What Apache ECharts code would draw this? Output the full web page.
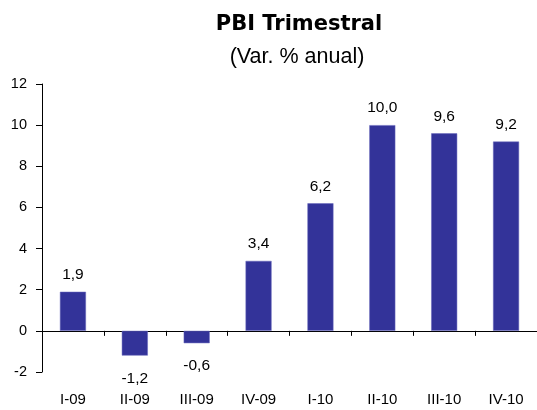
<!DOCTYPE html>
<html><head><meta charset="utf-8">
<script src="https://cdn.jsdelivr.net/npm/echarts@6/dist/echarts.min.js"></script>
<style>html,body{margin:0;padding:0;background:#fff}#c{width:537px;height:410px}</style>
</head><body><div id="c"></div>
<script>
const categories = ['I-09','II-09','III-09','IV-09','I-10','II-10','III-10','IV-10'];
const values = [1.9, -1.2, -0.6, 3.4, 6.2, 10.0, 9.6, 9.2];
const yTicks = {min: -2, max: 12, interval: 2};
const font = '"Liberation Sans", Arial, sans-serif';
const chart = echarts.init(document.getElementById('c'), null, {renderer: 'canvas'});
chart.setOption({
  animation: false,
  title: [{
    text: 'PBI Trimestral', left: 294, top: 9, textAlign: 'center',
    textStyle: {fontFamily: '"DejaVu Sans", sans-serif', fontSize: 21, fontWeight: 'bold', color: '#000'}
  }, {
    text: '(Var. % anual)', left: 292, top: 41, textAlign: 'center',
    textStyle: {fontFamily: font, fontSize: 21.5, fontWeight: 'normal', color: '#000'}
  }],
  grid: {left: 42, right: -7, top: 84, bottom: 38},
  xAxis: [{
    type: 'category', data: categories, position: 'bottom',
    axisLine: {onZero: true, lineStyle: {color: '#000', width: 1}},
    axisTick: {show: true, length: 5, lineStyle: {color: '#000'}},
    axisLabel: {show: false}
  }, {
    type: 'category', data: categories, position: 'bottom',
    axisLine: {show: false, onZero: false},
    axisTick: {show: false},
    axisLabel: {show: true, margin: 20, fontFamily: font, fontSize: 15, color: '#000'}
  }],
  yAxis: {
    type: 'value', min: yTicks.min, max: yTicks.max, interval: yTicks.interval,
    axisLine: {show: true, lineStyle: {color: '#000'}},
    axisTick: {show: true, length: 6, lineStyle: {color: '#000'}},
    splitLine: {show: false},
    axisLabel: {fontFamily: font, fontSize: 14.5, color: '#000', margin: 15}
  },
  series: [{
    type: 'bar', xAxisIndex: 0, barWidth: 26,
    data: values.map(v => ({
      value: v,
      label: v >= 0 ? {position: 'top', distance: 9} : {position: 'bottom', distance: 15}
    })),
    itemStyle: {color: '#333399', borderColor: '#6666bb', borderWidth: 0.5},
    label: {
      show: true, fontFamily: font, fontSize: 15.5, color: '#000',
      formatter: p => p.value.toFixed(1).replace('.', ',')
    }
  }]
});
</script></body></html>
